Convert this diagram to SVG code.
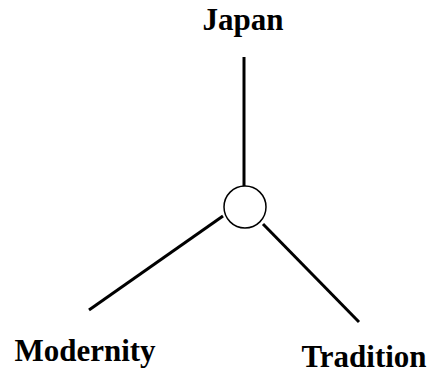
<svg xmlns="http://www.w3.org/2000/svg" width="431" height="373" viewBox="0 0 431 373">
<style>
.lbl{font-family:"Liberation Serif","Times New Roman",serif;font-weight:bold;font-size:31px;fill:#000}
.edge{stroke:#000;stroke-width:3;fill:none}
</style>
<rect width="431" height="373" fill="#fff"/>
<g id="connectors">
<line class="edge" x1="244" y1="57" x2="244" y2="186"/>
<line class="edge" x1="223" y1="216" x2="89" y2="310"/>
<line class="edge" x1="263" y1="224" x2="359" y2="322"/>
</g>
<g id="hub"><circle cx="245" cy="207" r="21" fill="#fff" stroke="#000" stroke-width="1.5"/></g>
<g id="japan"><text class="lbl" x="243" y="30" text-anchor="middle">Japan</text></g>
<g id="modernity"><text class="lbl" x="85" y="361" text-anchor="middle">Modernity</text></g>
<g id="tradition"><text class="lbl" x="364" y="367" text-anchor="middle">Tradition</text></g>
</svg>
